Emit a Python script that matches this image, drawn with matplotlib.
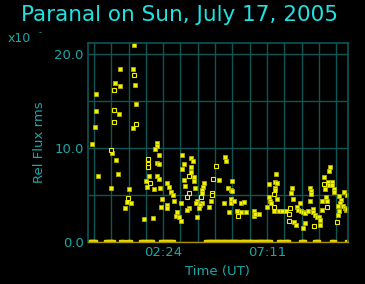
import matplotlib
matplotlib.use("Agg")
import matplotlib.pyplot as plt
from matplotlib.ticker import FixedLocator, FuncFormatter

# time in hours UT (negative = evening before midnight), flux rms in units of 1e-3
t_fill = [1.04, 0.42, 1.01, 0.19, 0.41, 1.11, -0.68, 1.14, -0.70, 0.36, 1.01, -0.74,
          -0.87, 2.10, 0.05, 0.24, -0.59, 0.30, -0.02, 0.81, 0.72, 0.93, 0.65, 1.54,
          1.91, 2.14, 2.03, 2.19, 2.12, 2.22, 1.77, 2.11, 2.23, 1.60, 1.65, 1.96,
          2.26, 2.60, 2.66, 2.74, 2.86, 2.34, 2.58, 2.58, 2.28, 2.92, 2.98,
          3.29, 3.69, 3.77, 3.35, 3.66, 3.27, 3.69, 3.84, 3.84, 3.38, 4.27, 4.24,
          3.41, 3.87, 4.21, 4.19, 3.23, 3.94, 3.90, 4.58, 4.18, 4.09, 4.06, 4.52,
          3.57, 3.50, 3.02, 3.14, 3.20, 3.96, 5.25, 5.28, 4.95, 5.56, 5.39, 5.50,
          5.59, 5.53, 5.19, 5.50, 5.65, 5.96, 6.11, 5.44, 5.84, 6.20, 6.57, 6.60,
          6.80, 5.78, 5.96, 6.62, 7.58, 7.28, 7.55, 7.64, 7.55, 7.55, 7.28, 7.32,
          7.37, 7.18, 7.64, 7.48, 7.71, 7.89, 8.04, 8.32, 8.29, 8.38, 8.54, 8.60,
          8.44, 8.50, 8.69, 8.75, 8.84, 8.93, 8.93, 8.84, 9.18, 9.21, 9.21, 9.18,
          9.06, 9.30, 9.30, 9.39, 9.48, 9.58, 9.64, 9.61, 9.70, 9.70, 9.79, 9.85,
          9.88, 9.92, 10.07, 10.04, 9.98, 10.01, 10.16, 10.19, 10.25, 10.28, 10.50,
          10.59, 10.56, 10.74, 10.44, 10.50, 10.44, 10.68, 10.77, 10.80, 10.86, 10.86]
v_fill = [21.0, 18.4, 18.4, 16.9, 16.6, 16.7, 15.8, 14.7, 13.9, 13.6, 12.1, 12.2,
          10.45, 10.5, 9.5, 8.75, 7.0, 7.2, 5.8, 5.6, 4.3, 4.15, 3.6, 2.45,
          2.5, 10.2, 9.9, 9.3, 8.4, 8.3, 7.0, 7.0, 6.7, 6.5, 5.9, 5.6,
          5.7, 6.3, 5.9, 5.3, 5.0, 4.6, 3.9, 3.65, 3.7, 4.4, 2.8,
          9.25, 8.9, 8.6, 8.3, 8.0, 7.8, 7.4, 6.9, 6.45, 6.55, 6.3, 5.9,
          6.0, 5.8, 5.5, 5.2, 4.15, 4.35, 4.15, 4.35, 4.1, 3.9, 3.6, 3.7,
          3.65, 3.45, 3.15, 2.65, 2.2, 2.7, 9.05, 8.6, 6.6, 6.5, 5.8, 5.5,
          5.4, 4.6, 4.1, 4.15, 4.4, 4.1, 4.3, 3.15, 3.15, 3.15, 3.3, 2.8,
          2.95, 3.25, 3.2, 3.0, 7.25, 6.2, 6.4, 6.3, 5.75, 5.5, 4.8, 4.4,
          4.1, 3.7, 4.6, 3.35, 3.25, 3.35, 3.25, 5.8, 5.2, 4.6, 3.7, 3.45,
          2.1, 1.8, 4.15, 3.35, 3.15, 3.1, 2.0, 1.45, 5.7, 5.4, 5.15, 4.4,
          3.3, 3.55, 3.2, 2.9, 2.65, 2.65, 2.35, 1.8, 3.45, 4.4, 6.9, 5.6,
          4.8, 4.4, 8.0, 7.6, 6.35, 6.1, 6.35, 6.05, 5.6, 5.35, 4.9,
          4.5, 4.1, 5.35, 3.8, 3.35, 2.9, 3.8, 3.6, 3.45, 5.05, 3.55]

t_open = [1.08, 0.15, 0.15, 0.15, 1.16, 0.01, 0.78, 1.71, 1.71, 1.71, 1.79,
          3.58, 3.60, 4.67, 4.67, 3.48, 4.15, 4.82, 4.70, 5.84, 7.52, 7.49,
          8.17, 8.20, 8.23, 9.36, 9.82, 9.94, 10.40]
v_open = [17.8, 16.2, 14.1, 12.8, 12.6, 9.8, 4.7, 8.8, 8.3, 8.0, 6.3,
          7.05, 5.2, 5.2, 5.0, 4.8, 4.8, 8.1, 6.7, 2.8, 5.15, 3.7,
          2.95, 2.2, 3.65, 1.75, 6.2, 3.7, 2.15]

t_zero = [-1.02, -0.94, -0.86, -0.78, -0.72, -0.22, -0.14, -0.06, 0.02, 0.10,
          0.48, 0.56, 0.80, 0.88, 1.40, 1.48, 1.56, 1.64, 1.76, 1.84, 1.90,
          2.32, 2.40, 2.48, 2.56, 2.68, 2.76, 2.84,
          4.38, 4.46, 4.54, 4.62, 4.70, 4.78, 4.86, 4.94, 5.02, 5.10, 5.18,
          5.26, 5.34, 5.42, 5.50, 5.58, 5.66, 5.74, 5.82,
          5.98, 6.06, 6.14, 6.22, 6.30, 6.38, 6.46, 6.54,
          6.68, 6.76, 6.84, 6.92, 7.00, 7.08, 7.16, 7.24, 7.30,
          7.74, 7.82, 8.00, 8.08, 8.16, 8.76, 8.84, 8.90,
          9.40, 9.48, 9.54, 10.18, 10.26, 10.88]

x_ticks = [2.4, 7.1833]
x_grid_step = 0.7972
y_ticks = [0, 10, 20]
y_grid = [5, 15]

title_col = "#1ee4e4"
label_col = "#1aa8a8"
grid_col = "#0d5656"

fig = plt.figure(figsize=(3.65, 2.84), dpi=100, facecolor="black")
ax = fig.add_axes([0.241, 0.148, 0.712, 0.701], facecolor="black")

ax.plot(t_fill, v_fill, ls="none", marker="s", ms=2.7, mfc="#f4f400", mec="#b0b000", mew=0.6)
ax.plot(t_open, v_open, ls="none", marker="s", ms=2.6, mfc="black", mec="#f0f000", mew=0.8)
ax.plot(t_zero, [0] * len(t_zero), ls="none", marker="s", ms=2.6, mfc="#e8d800", mec="#e8d800")

ax.set_xlim(-1.06, 10.9)
ax.set_ylim(0, 21.2)

ax.xaxis.set_major_locator(FixedLocator(x_ticks))
ax.xaxis.set_minor_locator(FixedLocator([2.4 + k * x_grid_step for k in range(-4, 11)]))
ax.xaxis.set_major_formatter(FuncFormatter(
    lambda h, p: "%02d:%02d" % (int(round(h * 60)) % 1440 // 60, int(round(h * 60)) % 60)))
ax.yaxis.set_major_locator(FixedLocator(y_ticks))
ax.yaxis.set_minor_locator(FixedLocator(y_grid))
ax.yaxis.set_major_formatter(FuncFormatter(lambda v, p: "%.1f" % v))

ax.grid(True, which="both", color=grid_col, lw=1.0)
ax.set_axisbelow(True)
ax.tick_params(which="both", length=0, colors=label_col, labelsize=9.5, pad=3)

for s in ["top", "left", "right"]:
    ax.spines[s].set_color(grid_col)
    ax.spines[s].set_linewidth(1.2)
ax.spines["bottom"].set_color("#a89000")
ax.spines["bottom"].set_linewidth(1.0)

ax.set_xlabel("Time (UT)", color=label_col, fontsize=9.5, labelpad=4)
ax.set_ylabel("Rel Flux rms", color=label_col, fontsize=9.5, labelpad=6)

fig.text(0.493, 0.947, "Paranal on Sun, July 17, 2005", color=title_col,
         fontsize=15.5, ha="center", va="center")
fig.text(0.022, 0.866, "x10", color=label_col, fontsize=9, ha="left", va="center")
fig.text(0.107, 0.885, "-", color=label_col, fontsize=6, ha="left", va="center")

fig.savefig("out.png", dpi=100, facecolor="black")
